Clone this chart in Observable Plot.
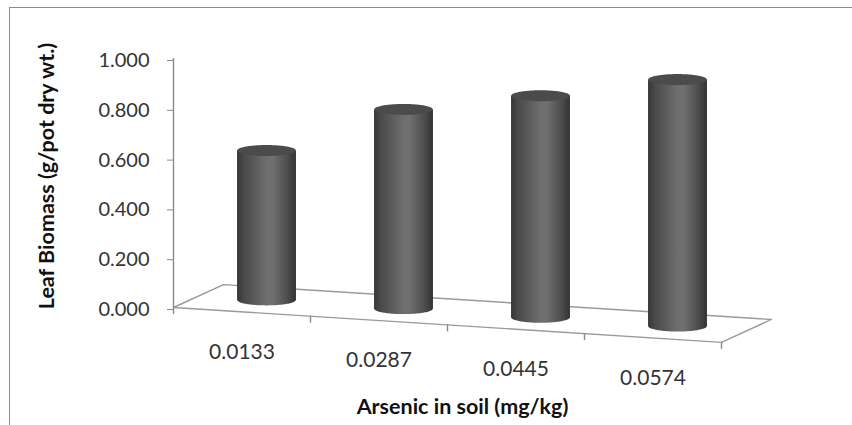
<!DOCTYPE html>
<html><head><meta charset="utf-8">
<script src="https://cdn.jsdelivr.net/npm/d3@7"></script>
<script src="https://cdn.jsdelivr.net/npm/@observablehq/plot@0.6"></script>
<style>
html,body{margin:0;padding:0;background:#fff;}
#wrap{position:relative;width:852px;height:425px;overflow:hidden;background:#fff;}
#border{position:absolute;left:9px;top:7px;width:900px;height:500px;border-left:1.5px solid #8c8c8c;border-top:1.5px solid #8c8c8c;}
#chart{position:absolute;left:0;top:0;}
</style></head><body>
<div id="wrap"><div id="border"></div><div id="chart"></div></div>
<script>
// ---- data ----
const categories = ["0.0133", "0.0287", "0.0445", "0.0574"];
const biomass = [0.60, 0.80, 0.89, 0.99];
const yTicks = [0, 0.2, 0.4, 0.6, 0.8, 1.0];
const yLabel = "Leaf Biomass (g/pot dry wt.)";
const xLabel = "Arsenic in soil (mg/kg)";

// ---- oblique 3-D view, expressed in the scales' data units ----
const view = {depthX: 0.365, slope: 0.035, depthY: 0.092, barDepth: 0.5, rx: 0.215, ry: 0.022, tickLen: 0.028};
const px = (u, w) => u + w * view.depthX;
const py = (u, w, v) => v - u * view.slope + w * view.depthY;
const n = categories.length;

const floor = [[0, 0], [n, 0], [n, 1], [0, 1], [0, 0]].map(([u, w]) => ({x: px(u, w), y: py(u, w, 0)}));
const xTickPos = d3.range(0, n + 1);

const N = 60;
const body = [], caps = [];
categories.forEach((c, i) => {
  const u = i + 0.5, w = view.barDepth;
  const cx = px(u, w), base = py(u, w, 0), top = py(u, w, biomass[i]);
  for (let k = 0; k <= N; k++) {
    const t = -1 + 2 * k / N, s = Math.sqrt(Math.max(0, 1 - t * t));
    body.push({bar: c, x: cx + t * view.rx, y1: base - view.ry * s, y2: top});
    caps.push({bar: c, x: cx + t * view.rx, y1: top - view.ry * s, y2: top + view.ry * s});
  }
});

const chart = Plot.plot({
  width: 852, height: 425,
  marginLeft: 173, marginRight: 131, marginTop: 58, marginBottom: 118,
  style: {fontFamily: "Lato, 'Open Sans', sans-serif", background: "transparent"},
  x: {domain: [0, n], axis: null},
  y: {domain: [0, 1]},
  marks: [
    Plot.line(floor, {x: "x", y: "y", stroke: "#9a9a9a", strokeWidth: 1.4}),
    Plot.ruleX(xTickPos, {x: u => px(u, 0), y1: u => py(u, 0, 0), y2: u => py(u, 0, 0) - view.tickLen, stroke: "#8a8a8a", strokeWidth: 1.4}),
    Plot.ruleX([0], {y1: 0, y2: 1, stroke: "#8a8a8a", strokeWidth: 1.4}),
    Plot.axisY({ticks: yTicks, tickFormat: d3.format(".3f"), tickSize: 6, tickPadding: 18, fontSize: 20, stroke: "#8a8a8a", fill: "#333", dy: 2, label: null}),
    Plot.areaY(body, {x: "x", y1: "y1", y2: "y2", z: "bar", fill: "url(#cyl)"}),
    Plot.areaY(caps, {x: "x", y1: "y1", y2: "y2", z: "bar", fill: "#4b4b4b"}),
    Plot.text(categories, {x: (d, i) => px(i + 0.5, 0), y: (d, i) => py(i + 0.5, 0, 0), dy: 40, fontSize: 21, fill: "#333"}),
    Plot.text([xLabel], {frameAnchor: "bottom", textAnchor: "middle", dx: 15, dy: 106, fontSize: 21.5, fontWeight: "bold", fill: "#111"}),
    Plot.text([yLabel], {frameAnchor: "left", textAnchor: "middle", dx: -126, dy: -7, rotate: -90, fontSize: 21.5, fontWeight: "bold", fill: "#111"})
  ]
});

// cylinder shading gradient
const ns = "http://www.w3.org/2000/svg";
const defs = document.createElementNS(ns, "defs");
const grad = document.createElementNS(ns, "linearGradient");
grad.setAttribute("id", "cyl");
grad.setAttribute("x1", "0"); grad.setAttribute("x2", "1"); grad.setAttribute("y1", "0"); grad.setAttribute("y2", "0");
[[0, "#363636"], [0.12, "#4a4a4a"], [0.5, "#6e6e6e"], [0.6, "#707070"], [0.85, "#4d4d4d"], [1, "#333333"]].forEach(([o, c]) => {
  const s = document.createElementNS(ns, "stop");
  s.setAttribute("offset", o); s.setAttribute("stop-color", c);
  grad.appendChild(s);
});
defs.appendChild(grad);
chart.insertBefore(defs, chart.firstChild);
document.getElementById("chart").appendChild(chart);
</script>
</body></html>
